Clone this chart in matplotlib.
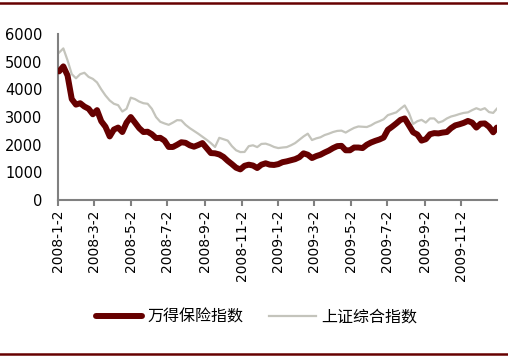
import pandas as pd
import matplotlib
matplotlib.use("Agg")
import matplotlib.pyplot as plt
from matplotlib.lines import Line2D

# 周度数据
dates = pd.date_range("2008-01-04", "2009-12-25", freq="W-FRI").append(pd.DatetimeIndex(["2009-12-31"]))

wande_baoxian = [
    4650, 4830, 4500, 3650, 3450, 3500, 3380, 3300, 3100, 3250,
    2850, 2650, 2300, 2550, 2620, 2460, 2800, 3000, 2800, 2600,
    2460, 2470, 2380, 2240, 2250, 2150, 1920, 1920, 2000, 2090,
    2070, 1980, 1930, 1990, 2060, 1880, 1700, 1690, 1650, 1560,
    1420, 1300, 1170, 1110, 1240, 1280, 1250, 1160, 1280, 1330,
    1280, 1270, 1300, 1370, 1400, 1440, 1480, 1550, 1690, 1640,
    1520, 1590, 1640, 1720, 1790, 1880, 1950, 1960, 1800, 1800,
    1900, 1900, 1880, 2000, 2080, 2140, 2190, 2260, 2540, 2650,
    2770, 2900, 2950, 2700, 2450, 2370, 2150, 2200, 2380, 2420,
    2410, 2440, 2460, 2600, 2700, 2740, 2790, 2860, 2800, 2620,
    2760, 2770, 2650, 2450, 2620,
]

shangzheng = [
    5330, 5480, 5050, 4550, 4400, 4550, 4600, 4450, 4380, 4250,
    4000, 3780, 3600, 3480, 3430, 3200, 3300, 3700, 3650, 3560,
    3500, 3480, 3300, 3000, 2830, 2770, 2720, 2800, 2890, 2880,
    2720, 2600, 2500, 2400, 2290, 2180, 2060, 1920, 2250, 2200,
    2150, 1950, 1800, 1735, 1740, 1950, 1980, 1915, 2030, 2040,
    1990, 1920, 1880, 1900, 1915, 1980, 2060, 2180, 2300, 2400,
    2170, 2230, 2270, 2350, 2400, 2460, 2500, 2510, 2440, 2530,
    2610, 2660, 2650, 2640, 2700, 2790, 2850, 2920, 3070, 3120,
    3170, 3300, 3420, 3150, 2750, 2850, 2900, 2800, 2950, 2950,
    2800, 2850, 2950, 3020, 3060, 3110, 3150, 3170, 3250, 3320,
    3260, 3320, 3180, 3150, 3300,
]

tick_dates = pd.to_datetime([
    "2008-01-02", "2008-03-02", "2008-05-02", "2008-07-02", "2008-09-02", "2008-11-02",
    "2009-01-02", "2009-03-02", "2009-05-02", "2009-07-02", "2009-09-02", "2009-11-02",
])

WINE = "#660000"
GREY = "#c4c4bc"

fig = plt.figure(figsize=(5.08, 3.58), dpi=100)
ax = fig.add_axes([0.114, 0.441, 0.864, 0.464])

ax.plot(dates, shangzheng, color=GREY, lw=1.6, label="上证综合指数", zorder=2)
ax.plot(dates, wande_baoxian, color=WINE, lw=4.3, label="万得保险指数",
        solid_capstyle="round", solid_joinstyle="round", zorder=3)

ax.set_ylim(0, 6000)
ax.set_yticks(range(0, 6001, 1000))
ax.set_xlim(pd.Timestamp("2008-01-02"), pd.Timestamp("2009-12-31"))
ax.set_xticks(tick_dates)
ax.set_xticklabels([f"{d.year}-{d.month}-{d.day}" for d in tick_dates], rotation=90)

for s in ["top", "right"]:
    ax.spines[s].set_visible(False)
for s in ["left", "bottom"]:
    ax.spines[s].set_color("#808080")
    ax.spines[s].set_linewidth(1.5)
ax.tick_params(axis="y", length=0, pad=11, labelsize=10.5, colors="black")
ax.tick_params(axis="x", length=4, width=1.5, color="#808080", pad=3, labelsize=10)

handles, labels = ax.get_legend_handles_labels()
fig.legend(handles[::-1], labels[::-1], loc="center", bbox_to_anchor=(0.505, 0.115),
           ncol=2, frameon=False, handlelength=2.9, handletextpad=0.35,
           columnspacing=1.6, prop={"family": "Noto Sans CJK SC", "size": 11.5})

# 上下装饰线
fig.add_artist(Line2D([0, 1], [0.993, 0.993], color=WINE, lw=1.8, transform=fig.transFigure))
fig.add_artist(Line2D([0, 1], [0.012, 0.012], color=WINE, lw=1.8, transform=fig.transFigure))

plt.savefig("out.png", dpi=100)
